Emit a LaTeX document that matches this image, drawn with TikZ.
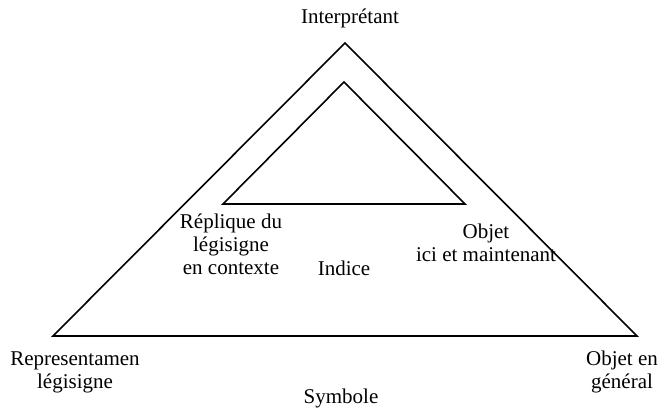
\documentclass[tikz,border=0pt]{standalone}
\usepackage{fontspec}
\setmainfont{Liberation Serif}
\begin{document}
\begin{tikzpicture}[x=1pt,y=1pt,
		lbl/.style={align=center,inner sep=0pt,font=\fontsize{21}{23}\selectfont},
		tri/.style={line width=1.6pt,line join=miter}]
		\useasboundingbox (0,0) rectangle (659,414);
		\coordinate (oa) at (345,371);
		\coordinate (ol) at (53,78);
		\coordinate (or) at (637,78);
		\coordinate (ia) at (344,332);
		\coordinate (il) at (223,210);
		\coordinate (ir) at (465,210);
		
		\node[lbl] at (350,396) (interp) {Interprétant};
		\node[lbl] at (231,170) (repl) {Réplique du\\légisigne\\en contexte};
		\node[lbl] at (344,146) (ind) {Indice};
		\node[lbl] at (486,171) (obj) {Objet\\ici et maintenant};
		\node[lbl] at (75,42) (rep) {Representamen\\légisigne};
		\node[lbl] at (622,42) (objg) {Objet en\\général};
		\node[lbl] at (341,16) (sym) {Symbole};
		
		\draw[tri] (oa) -- (ol) -- (or) -- cycle;
		\draw[tri] (ia) -- (il) -- (ir) -- cycle;
	\end{tikzpicture}
\end{document}
